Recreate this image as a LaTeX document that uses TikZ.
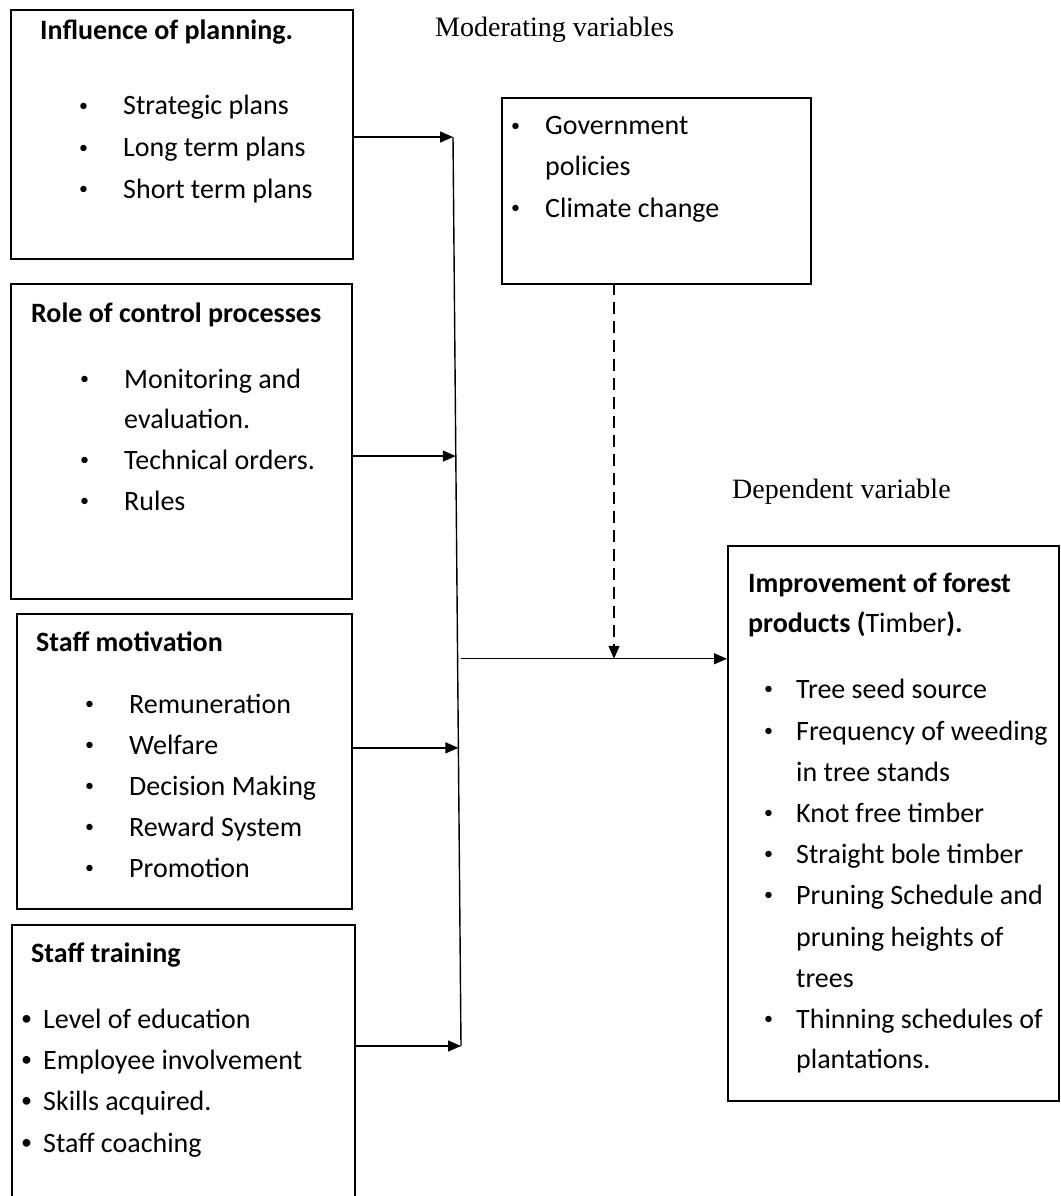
\documentclass[tikz,border=0pt]{standalone}
\usepackage{fontspec}
\setmainfont{Carlito}
\newfontfamily\timesf{Liberation Serif}
\usetikzlibrary{arrows.meta,calc}
\newcommand{\smallbul}{\raisebox{3.8pt}{\fontsize{18}{18}\selectfont •}}
\newcommand{\midbul}{\raisebox{2.5pt}{\fontsize{22}{22}\selectfont •}}
\begin{document}
\begin{tikzpicture}[x=1pt,y=-1pt,
  box/.style={draw=black,line width=1.6pt,rectangle,anchor=north west,inner sep=0pt},
  txt/.style={anchor=base west,inner sep=0pt,font=\fontsize{28}{34}\selectfont},
  bul/.style={anchor=base west,inner sep=0pt,font=\fontsize{28}{34}\selectfont},
  lbl/.style={anchor=base west,inner sep=0pt,font=\timesf\fontsize{28}{34}\selectfont},
  conn/.style={line width=1.4pt,-{Triangle[length=13pt,width=11pt]}},
  vline/.style={line width=1.4pt},
  dconn/.style={line width=1.4pt,dash pattern=on 12pt off 7pt,-{Triangle[length=13pt,width=11pt]}}]
\useasboundingbox (0,0) rectangle (1060,1196);
\clip (0,0) rectangle (1060,1196);
\fill[white] (0,0) rectangle (1060,1196);

% boxes
\node[box,minimum width=342pt,minimum height=249pt] (b1) at (10,9) {};
\node[box,minimum width=341pt,minimum height=315pt] (b2) at (10,283) {};
\node[box,minimum width=335pt,minimum height=295pt] (b3) at (16,613) {};
\node[box,minimum width=343pt,minimum height=320pt] (b4) at (11,924) {};
\node[box,minimum width=309pt,minimum height=186pt] (mb) at (501,97) {};
\node[box,minimum width=331pt,minimum height=555pt] (db) at (727,545) {};

% box 1
\node[txt] (b1h) at (40,40) {\bfseries Influence of planning.};
\foreach \y/\t [count=\i] in {115/Strategic plans,157/Long term plans,198/Short term plans}{
  \node[bul] (b1d\i) at (79,\y) {\smallbul};
  \node[txt] (b1t\i) at (123,\y) {\t};
}
% box 2
\node[txt] (b2h) at (31,322) {\bfseries Role of control processes};
\foreach \y [count=\i] in {388,469,510}{
  \node[bul] (b2d\i) at (80,\y) {\smallbul};
}
\foreach \y/\t [count=\i] in {388/Monitoring and,428/evaluation.,469/Technical orders.,510/Rules}{
  \node[txt] (b2t\i) at (124,\y) {\t};
}
% box 3
\node[txt] (b3h) at (36,651) {\bfseries Staff motivation};
\foreach \y/\t [count=\i] in {713/Remuneration,754/Welfare,795/Decision Making,836/Reward System,877/Promotion}{
  \node[bul] (b3d\i) at (85,\y) {\smallbul};
  \node[txt] (b3t\i) at (129,\y) {\t};
}
% box 4
\node[txt] (b4h) at (31,962) {\bfseries Staff training};
\foreach \y/\t [count=\i] in {1028/Level of education,1069/Employee involvement,1110/Skills acquired.,1152/Staff coaching}{
  \node[bul] (b4d\i) at (21,\y) {\midbul};
  \node[txt] (b4t\i) at (43,\y) {\t};
}
% moderating box
\foreach \y [count=\i] in {135,217}{
  \node[bul] (mbd\i) at (511,\y) {\smallbul};
}
\foreach \y/\t [count=\i] in {135/Government,175/policies,217/Climate change}{
  \node[txt] (mbt\i) at (545,\y) {\t};
}
% dependent box
\node[txt] (dbh1) at (748,592) {\bfseries Improvement of forest};
\node[txt] (dbh2) at (748,632) {\textbf{products (}Timber\textbf{).}};
\foreach \y [count=\i] in {698,740,822,863,904,1028}{
  \node[bul] (dbd\i) at (764,\y) {\smallbul};
}
\foreach \y/\t [count=\i] in {698/Tree seed source,740/Frequency of weeding,781/in tree stands,822/Knot free timber,863/Straight bole timber,904/Pruning Schedule and,946/pruning heights of,987/trees,1028/Thinning schedules of,1068/plantations.}{
  \node[txt] (dbt\i) at (796,\y) {\t};
}

% labels
\node[lbl] (lmod) at (435,37) {Moderating variables};
\node[lbl] (ldep) at (732,498) {Dependent variable};

% connectors
\coordinate (vt) at (453,137);
\coordinate (vb) at (461,1046);
\draw[vline] (vt) -- (vb);
\coordinate (p2) at ($(vt)!0.351!(vb)$);
\coordinate (p3) at ($(vt)!0.672!(vb)$);
\coordinate (pm) at ($(vt)!0.574!(vb)$);
\draw[conn] (b1.east |- vt) -- (vt);
\draw[conn] (b2.east |- p2) -- (p2);
\draw[conn] (b3.east |- p3) -- (p3);
\draw[conn] (b4.east |- vb) -- (vb);
\coordinate (ps) at ($(pm)+(3,0)$);
\draw[conn] (ps) -- (db.west |- ps);
\coordinate (dm) at (614,283);
\draw[dconn] (dm) -- (dm |- ps);
\end{tikzpicture}
\end{document}
